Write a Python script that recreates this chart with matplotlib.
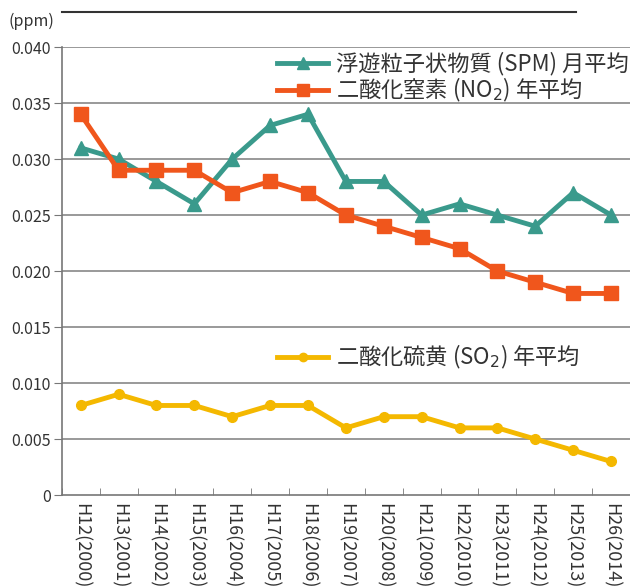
import numpy as np
import matplotlib.pyplot as plt
from matplotlib.lines import Line2D

plt.rcParams['font.family'] = ['Noto Sans CJK JP', 'DejaVu Sans']

years = ['H12(2000)', 'H13(2001)', 'H14(2002)', 'H15(2003)', 'H16(2004)',
         'H17(2005)', 'H18(2006)', 'H19(2007)', 'H20(2008)', 'H21(2009)',
         'H22(2010)', 'H23(2011)', 'H24(2012)', 'H25(2013)', 'H26(2014)']
spm = [0.031, 0.030, 0.028, 0.026, 0.030, 0.033, 0.034, 0.028, 0.028, 0.025,
       0.026, 0.025, 0.024, 0.027, 0.025]
no2 = [0.034, 0.029, 0.029, 0.029, 0.027, 0.028, 0.027, 0.025, 0.024, 0.023,
       0.022, 0.020, 0.019, 0.018, 0.018]
so2 = [0.008, 0.009, 0.008, 0.008, 0.007, 0.008, 0.008, 0.006, 0.007, 0.007,
       0.006, 0.006, 0.005, 0.004, 0.003]

c_spm = '#3a9a8c'
c_no2 = '#f0561c'
c_so2 = '#f4b800'
c_txt = '#333333'

fig = plt.figure(figsize=(6.3, 5.88), dpi=100)
ax = fig.add_axes([0.098, 0.158, 0.902, 0.762])

x = np.arange(len(years))
ax.plot(x, spm, color=c_spm, lw=3.5, marker='^', ms=10, zorder=3)
ax.plot(x, no2, color=c_no2, lw=3.5, marker='s', ms=10, zorder=4)
ax.plot(x, so2, color=c_so2, lw=3.5, marker='o', ms=7, zorder=3)

ax.set_xlim(-0.5, len(years) - 0.5)
ax.set_ylim(0, 0.040)
yt = np.arange(0, 0.0401, 0.005)
ax.set_yticks(yt)
ax.set_yticklabels(['0'] + ['%.3f' % v for v in yt[1:]], fontsize=11.5, color=c_txt)
ax.set_xticks(x)
ax.set_xticklabels(years, rotation=270, fontsize=13, color=c_txt)
ax.set_xticks(np.arange(-0.5, len(years), 1), minor=True)
ax.tick_params(axis='x', which='major', length=0, pad=6)
ax.tick_params(axis='x', which='minor', length=5, color='#777777', direction='in')
ax.tick_params(axis='y', length=6, color='#777777', pad=2)

# gray guide lines at every tick above zero
for v in yt[1:]:
    ax.axhline(v, color='#888888', lw=1.2, zorder=1)
for s in ['top', 'right']:
    ax.spines[s].set_visible(False)
for s in ['left', 'bottom']:
    ax.spines[s].set_color('#777777')
    ax.spines[s].set_linewidth(1.2)

fig.text(0.014, 0.963, '(ppm)', fontsize=11.5, color=c_txt, va='center')
fig.add_artist(Line2D([0.098, 0.915], [0.98, 0.98], color=c_txt, lw=1.5))

leg_kw = dict(loc='upper left', bbox_transform=fig.transFigure, frameon=False,
              fontsize=16, handlelength=2.3, handletextpad=0.35,
              labelspacing=0.02, borderaxespad=0, borderpad=0)
h1 = [Line2D([], [], color=c_spm, lw=3.5, marker='^', ms=8),
      Line2D([], [], color=c_no2, lw=3.5, marker='s', ms=8)]
leg1 = ax.legend(h1, ['浮遊粒子状物質 (SPM) 月平均', '二酸化窒素 (NO$_2$) 年平均'],
                 bbox_to_anchor=(0.44, 0.912), **leg_kw)
for t in leg1.get_texts():
    t.set_color(c_txt)
ax.add_artist(leg1)
h2 = [Line2D([], [], color=c_so2, lw=3.5, marker='o', ms=6)]
leg2 = ax.legend(h2, ['二酸化硫黄 (SO$_2$) 年平均'], bbox_to_anchor=(0.44, 0.417), **leg_kw)
for t in leg2.get_texts():
    t.set_color(c_txt)

fig.savefig('out.png', dpi=100)
